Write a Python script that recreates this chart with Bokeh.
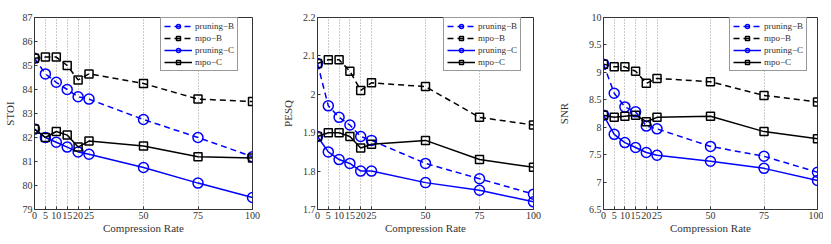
from bokeh.plotting import figure
from bokeh.layouts import row
from bokeh.models import FixedTicker, CustomJSTickFormatter, Legend, LegendItem, Range1d
from bokeh.embed import file_html
from bokeh.resources import INLINE

rates = [0, 5, 10, 15, 20, 25, 50, 75, 100]
x_ticks = [0, 5, 10, 15, 20, 25, 50, 75, 100]
series_names = ["pruning−B", "mpo−B", "pruning−C", "mpo−C"]

stoi_pruning_b = [85.3, 84.65, 84.3, 84.0, 83.7, 83.6, 82.75, 82.0, 81.2]
stoi_mpo_b = [85.3, 85.35, 85.35, 85.0, 84.4, 84.65, 84.25, 83.6, 83.5]
stoi_pruning_c = [82.35, 82.0, 81.8, 81.6, 81.4, 81.3, 80.75, 80.1, 79.5]
stoi_mpo_c = [82.35, 82.0, 82.25, 82.1, 81.6, 81.85, 81.65, 81.2, 81.15]
stoi_ticks = [79, 80, 81, 82, 83, 84, 85, 86, 87]

pesq_pruning_b = [2.08, 1.97, 1.94, 1.92, 1.89, 1.88, 1.82, 1.78, 1.74]
pesq_mpo_b = [2.08, 2.09, 2.09, 2.06, 2.01, 2.03, 2.02, 1.94, 1.92]
pesq_pruning_c = [1.89, 1.85, 1.83, 1.82, 1.80, 1.80, 1.77, 1.75, 1.72]
pesq_mpo_c = [1.89, 1.90, 1.90, 1.89, 1.86, 1.87, 1.88, 1.83, 1.81]
pesq_ticks = [1.7, 1.8, 1.9, 2.0, 2.1, 2.2]

snr_pruning_b = [9.15, 8.62, 8.37, 8.28, 8.02, 7.97, 7.65, 7.47, 7.18]
snr_mpo_b = [9.15, 9.10, 9.10, 9.02, 8.80, 8.89, 8.83, 8.58, 8.46]
snr_pruning_c = [8.22, 7.87, 7.72, 7.63, 7.54, 7.49, 7.38, 7.25, 7.03]
snr_mpo_c = [8.22, 8.18, 8.20, 8.22, 8.10, 8.18, 8.20, 7.92, 7.79]
snr_ticks = [6.5, 7, 7.5, 8, 8.5, 9, 9.5, 10]

FONT = "Liberation Serif"
AX = "#333333"


def style_axis(ax):
    ax.axis_line_color = AX
    ax.major_tick_line_color = AX
    ax.major_tick_in = 3
    ax.major_tick_out = 0
    ax.minor_tick_line_color = None
    ax.major_label_text_font = FONT
    ax.major_label_text_font_size = "10px"
    ax.major_label_text_color = AX
    ax.axis_label_text_font = FONT
    ax.axis_label_text_font_size = "11px"
    ax.axis_label_text_font_style = "normal"
    ax.axis_label_text_color = AX
    ax.major_label_standoff = 2
    ax.axis_label_standoff = 0


def make_panel(ylabel, series, yticks, width, border_left, border_right, ylabel_standoff):
    p = figure(width=width, height=236, output_backend="svg",
               toolbar_location=None, min_border_left=border_left,
               min_border_right=border_right, min_border_top=17, min_border_bottom=26,
               x_range=Range1d(0, 100), y_range=Range1d(yticks[0], yticks[-1]))
    p.outline_line_color = AX
    p.outline_line_width = 1
    p.background_fill_color = "white"
    p.border_fill_color = "white"

    p.xaxis.ticker = FixedTicker(ticks=x_ticks)
    p.yaxis.ticker = FixedTicker(ticks=yticks)
    p.yaxis.formatter = CustomJSTickFormatter(code="return String(Number(tick.toFixed(2)));")
    style_axis(p.xaxis[0])
    style_axis(p.yaxis[0])
    p.xaxis.axis_label = "Compression Rate"
    p.yaxis.axis_label = ylabel
    p.yaxis.axis_label_standoff = ylabel_standoff

    p.xgrid.ticker = FixedTicker(ticks=x_ticks)
    p.xgrid.grid_line_color = "#9a9a9a"
    p.xgrid.grid_line_dash = "1 2"
    p.xgrid.grid_line_width = 1
    p.ygrid.grid_line_color = None

    styles = [("blue", "6 4", "circle", 10),
              ("black", "6 4", "square", 8),
              ("blue", "solid", "circle", 10),
              ("black", "solid", "square", 8)]
    items = []
    for name, ys, (col, dash, mk, sz) in zip(series_names, series, styles):
        ln = p.line(rates, ys, line_color=col, line_width=1.5, line_dash=dash)
        sc = p.scatter(rates, ys, marker=mk, size=sz, fill_color=None,
                       line_color=col, line_width=1.5)
        items.append(LegendItem(label=name, renderers=[ln, sc]))

    leg = Legend(items=items, location=(126, 138))
    leg.label_text_font = FONT
    leg.label_text_font_size = "9px"
    leg.label_text_color = AX
    leg.label_height = 10
    leg.glyph_height = 10
    leg.glyph_width = 28
    leg.spacing = 2
    leg.padding = 3
    leg.margin = 0
    leg.label_standoff = 3
    leg.border_line_color = AX
    leg.border_line_width = 1
    leg.background_fill_alpha = 1
    p.add_layout(leg)
    return p


p1 = make_panel("STOI", [stoi_pruning_b, stoi_mpo_b, stoi_pruning_c, stoi_mpo_c],
                stoi_ticks, 277, 33, 25, 4)
p2 = make_panel("PESQ", [pesq_pruning_b, pesq_mpo_b, pesq_pruning_c, pesq_mpo_c],
                pesq_ticks, 277, 40, 21, 6)
p3 = make_panel("SNR", [snr_pruning_b, snr_mpo_b, snr_pruning_c, snr_mpo_c],
                snr_ticks, 269, 46, 6, 16)

layout = row(p1, p2, p3)
open("out.html", "w").write(file_html(layout, INLINE))
